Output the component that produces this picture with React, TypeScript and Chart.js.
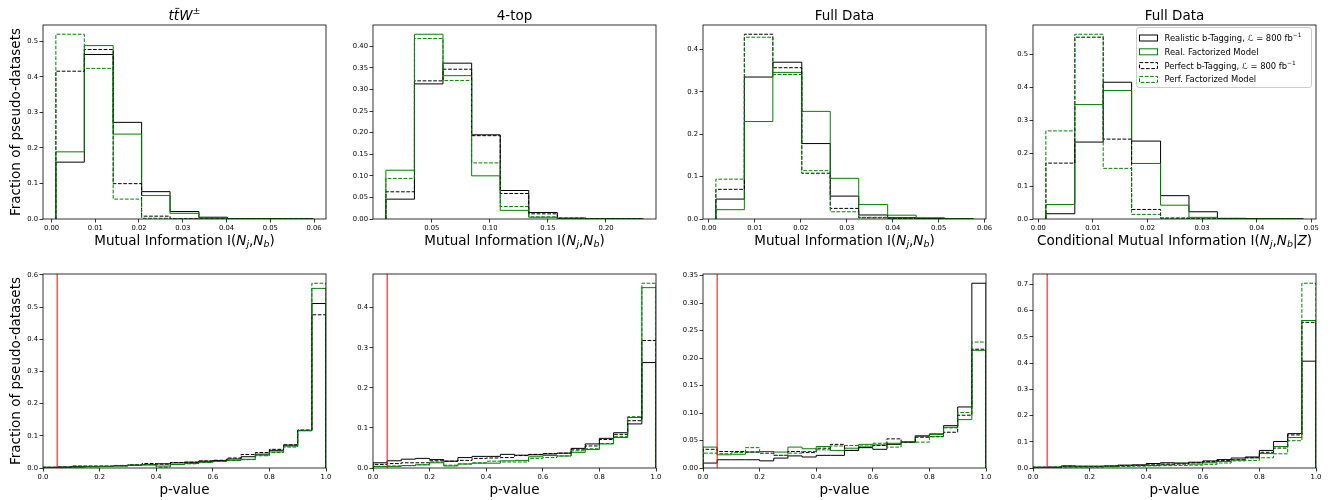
import React, { useEffect, useRef } from "react";
import { Chart, registerables } from "chart.js";
Chart.register(...registerables);

const FONT = "'DejaVu Sans', 'Liberation Sans', sans-serif";
const GREEN = "#008000";
const BLACK = "#000000";

// ---------- Series labels ----------
const seriesNames = [
  "Realistic b-Tagging, L = 800 fb-1",
  "Real. Factorized Model",
  "Perfect b-Tagging, L = 800 fb-1",
  "Perf. Factorized Model",
];

// ---------- Top row: mutual information histograms (9 bins) ----------
const ttwMiEdges = [0.001, 0.0075, 0.0141, 0.0206, 0.0271, 0.0337, 0.0402, 0.0467, 0.0533, 0.0598];
const ttwMiRealistic = [0.16, 0.463, 0.272, 0.077, 0.021, 0.005, 0.001, 0.0005, 0.0003];
const ttwMiRealFact = [0.189, 0.488, 0.239, 0.066, 0.016, 0.003, 0.001, 0.0005, 0.0002];
const ttwMiPerfect = [0.416, 0.477, 0.0995, 0.008, 0.001, 0.0003, 0.0002, 0.0001, 0.0001];
const ttwMiPerfFact = [0.52, 0.424, 0.056, 0.002, 0.0005, 0.0002, 0.0001, 0.0001, 0.0001];

const topMiEdges = [0.0104, 0.035, 0.0596, 0.0843, 0.1089, 0.1335, 0.1581, 0.1827, 0.2074, 0.232];
const topMiRealistic = [0.046, 0.313, 0.361, 0.195, 0.066, 0.015, 0.002, 0.0005, 0.0003];
const topMiRealFact = [0.113, 0.428, 0.332, 0.1, 0.02, 0.004, 0.001, 0.0005, 0.0002];
const topMiPerfect = [0.063, 0.32, 0.347, 0.193, 0.059, 0.012, 0.002, 0.0005, 0.0002];
const topMiPerfFact = [0.094, 0.418, 0.321, 0.13, 0.029, 0.005, 0.001, 0.0003, 0.0001];

const fullMiEdges = [0.0015, 0.0077, 0.0139, 0.0202, 0.0264, 0.0326, 0.0389, 0.0451, 0.0513, 0.0575];
const fullMiRealistic = [0.047, 0.335, 0.37, 0.178, 0.054, 0.0095, 0.003, 0.001, 0.0005];
const fullMiRealFact = [0.022, 0.23, 0.346, 0.254, 0.096, 0.034, 0.009, 0.003, 0.001];
const fullMiPerfect = [0.07, 0.436, 0.357, 0.108, 0.025, 0.003, 0.001, 0.0003, 0.0001];
const fullMiPerfFact = [0.094, 0.429, 0.341, 0.114, 0.017, 0.004, 0.001, 0.0003, 0.0001];

const cmiEdges = [0.0014, 0.0067, 0.0119, 0.0171, 0.0224, 0.0276, 0.0328, 0.0381, 0.0433, 0.0485];
const cmiRealistic = [0.016, 0.234, 0.416, 0.237, 0.071, 0.022, 0.002, 0.001, 0.0005];
const cmiRealFact = [0.044, 0.348, 0.391, 0.169, 0.042, 0.005, 0.001, 0.0005, 0.0002];
const cmiPerfect = [0.17, 0.553, 0.243, 0.029, 0.003, 0.0005, 0.0002, 0.0001, 0.0001];
const cmiPerfFact = [0.268, 0.562, 0.154, 0.014, 0.002, 0.0003, 0.0001, 0.0001, 0.0001];

// ---------- Bottom row: p-value histograms (20 bins) ----------
const pEdges = [0, 0.05, 0.1, 0.15, 0.2, 0.25, 0.3, 0.35, 0.4, 0.45, 0.5, 0.55, 0.6, 0.65, 0.7, 0.75, 0.8, 0.85, 0.9, 0.95, 1.0];

const pTtwRealistic = [0.002, 0.003, 0.005, 0.005, 0.005, 0.007, 0.009, 0.011, 0.013, 0.016, 0.018, 0.021, 0.023, 0.028, 0.035, 0.043, 0.055, 0.071, 0.116, 0.511];
const pTtwRealFact = [0.002, 0.002, 0.003, 0.004, 0.005, 0.006, 0.008, 0.009, 0.006, 0.011, 0.014, 0.018, 0.021, 0.024, 0.027, 0.04, 0.05, 0.068, 0.117, 0.558];
const pTtwPerfect = [0.002, 0.003, 0.006, 0.006, 0.006, 0.008, 0.01, 0.014, 0.012, 0.017, 0.018, 0.022, 0.024, 0.031, 0.042, 0.048, 0.058, 0.072, 0.118, 0.476];
const pTtwPerfFact = [0.002, 0.002, 0.003, 0.004, 0.005, 0.007, 0.01, 0.011, 0.003, 0.011, 0.013, 0.017, 0.02, 0.023, 0.026, 0.038, 0.048, 0.065, 0.116, 0.574];

const pTopRealistic = [0.013, 0.018, 0.022, 0.024, 0.021, 0.017, 0.026, 0.029, 0.029, 0.034, 0.032, 0.033, 0.035, 0.037, 0.049, 0.06, 0.074, 0.088, 0.11, 0.263];
const pTopRealFact = [0.004, 0.004, 0.006, 0.008, 0.013, 0.005, 0.01, 0.012, 0.012, 0.018, 0.019, 0.028, 0.031, 0.03, 0.039, 0.046, 0.06, 0.076, 0.126, 0.45];
const pTopPerfect = [0.009, 0.011, 0.013, 0.013, 0.018, 0.017, 0.019, 0.024, 0.025, 0.026, 0.031, 0.034, 0.036, 0.037, 0.047, 0.055, 0.071, 0.084, 0.118, 0.318];
const pTopPerfFact = [0.004, 0.005, 0.006, 0.008, 0.015, 0.007, 0.01, 0.013, 0.017, 0.015, 0.015, 0.024, 0.026, 0.03, 0.043, 0.048, 0.061, 0.079, 0.128, 0.461];

const pFullRealistic = [0.009, 0.015, 0.015, 0.015, 0.013, 0.018, 0.022, 0.02, 0.023, 0.023, 0.032, 0.037, 0.034, 0.043, 0.047, 0.058, 0.062, 0.077, 0.111, 0.336];
const pFullRealFact = [0.038, 0.024, 0.025, 0.029, 0.03, 0.029, 0.038, 0.035, 0.039, 0.032, 0.036, 0.043, 0.042, 0.045, 0.047, 0.059, 0.061, 0.074, 0.088, 0.214];
const pFullPerfect = [0.034, 0.03, 0.03, 0.029, 0.027, 0.023, 0.03, 0.028, 0.036, 0.043, 0.032, 0.038, 0.041, 0.053, 0.047, 0.056, 0.057, 0.065, 0.096, 0.216];
const pFullPerfFact = [0.027, 0.026, 0.028, 0.037, 0.03, 0.023, 0.027, 0.03, 0.033, 0.04, 0.041, 0.04, 0.045, 0.038, 0.048, 0.047, 0.057, 0.073, 0.101, 0.229];

const pCmiRealistic = [0.003, 0.003, 0.008, 0.007, 0.007, 0.008, 0.011, 0.012, 0.017, 0.02, 0.019, 0.022, 0.027, 0.032, 0.038, 0.042, 0.067, 0.101, 0.131, 0.407];
const pCmiRealFact = [0.002, 0.003, 0.005, 0.005, 0.005, 0.006, 0.009, 0.01, 0.01, 0.012, 0.017, 0.015, 0.02, 0.025, 0.031, 0.039, 0.055, 0.082, 0.116, 0.562];
const pCmiPerfect = [0.003, 0.003, 0.007, 0.006, 0.006, 0.007, 0.009, 0.01, 0.012, 0.015, 0.015, 0.02, 0.024, 0.029, 0.031, 0.039, 0.06, 0.076, 0.126, 0.555];
const pCmiPerfFact = [0.002, 0.002, 0.004, 0.004, 0.004, 0.005, 0.006, 0.007, 0.008, 0.009, 0.01, 0.011, 0.014, 0.019, 0.027, 0.029, 0.039, 0.054, 0.104, 0.704];

// ---------- Tick labels ----------
const ticksMi6 = [0, 0.01, 0.02, 0.03, 0.04, 0.05, 0.06];
const ticksMiTop = [0.05, 0.1, 0.15, 0.2];
const ticksCmi = [0, 0.01, 0.02, 0.03, 0.04, 0.05];
const ticksP = [0, 0.2, 0.4, 0.6, 0.8, 1.0];

const yTicksTtw = [0, 0.1, 0.2, 0.3, 0.4, 0.5];
const yTicksTop = [0, 0.05, 0.1, 0.15, 0.2, 0.25, 0.3, 0.35, 0.4];
const yTicksFull = [0, 0.1, 0.2, 0.3, 0.4];
const yTicksCmi = [0, 0.1, 0.2, 0.3, 0.4, 0.5];
const yTicksPTtw = [0, 0.1, 0.2, 0.3, 0.4, 0.5, 0.6];
const yTicksPTop = [0, 0.1, 0.2, 0.3, 0.4];
const yTicksPFull = [0, 0.05, 0.1, 0.15, 0.2, 0.25, 0.3, 0.35];
const yTicksPCmi = [0, 0.1, 0.2, 0.3, 0.4, 0.5, 0.6, 0.7];

// ---------- Rich text ----------
type Seg = { t: string; i?: boolean; sub?: boolean; sup?: boolean; over?: boolean };

const segFont = (s: Seg, size: number) =>
  `${s.i ? "italic " : ""}${s.sub || s.sup ? size * 0.7 : size}px ${FONT}`;

function drawRich(ctx: CanvasRenderingContext2D, segs: Seg[], x: number, y: number, size: number, align: "center" | "left") {
  const widths = segs.map((s) => {
    ctx.font = segFont(s, size);
    return ctx.measureText(s.t).width;
  });
  const total = widths.reduce((a, b) => a + b, 0);
  let cx = align === "center" ? x - total / 2 : x;
  ctx.textAlign = "left";
  ctx.textBaseline = "alphabetic";
  segs.forEach((s, k) => {
    ctx.font = segFont(s, size);
    let dy = 0;
    if (s.sub) dy = size * 0.22;
    if (s.sup) dy = -size * 0.42;
    ctx.fillText(s.t, cx, y + dy);
    if (s.over) {
      ctx.save();
      ctx.lineWidth = size * 0.06;
      ctx.beginPath();
      ctx.moveTo(cx + widths[k] * 0.25, y - size * 0.86);
      ctx.lineTo(cx + widths[k] * 1.05, y - size * 0.86);
      ctx.stroke();
      ctx.restore();
    }
    cx += widths[k];
  });
}

const miLabel: Seg[] = [
  { t: "Mutual Information I(" },
  { t: "N", i: true },
  { t: "j", i: true, sub: true },
  { t: "," },
  { t: "N", i: true },
  { t: "b", i: true, sub: true },
  { t: ")" },
];
const cmiLabel: Seg[] = [
  { t: "Conditional Mutual Information I(" },
  { t: "N", i: true },
  { t: "j", i: true, sub: true },
  { t: "," },
  { t: "N", i: true },
  { t: "b", i: true, sub: true },
  { t: "|" },
  { t: "Z", i: true },
  { t: ")" },
];
const pLabel: Seg[] = [{ t: "p-value" }];
const ttwTitle: Seg[] = [
  { t: "t", i: true },
  { t: "t", i: true, over: true },
  { t: "W", i: true },
  { t: "±", sup: true },
];

const legendRows: Seg[][] = [
  [{ t: "Realistic b-Tagging, " }, { t: "ℒ", i: true }, { t: " = 800 fb" }, { t: "−1", sup: true }],
  [{ t: "Real. Factorized Model" }],
  [{ t: "Perfect b-Tagging, " }, { t: "ℒ", i: true }, { t: " = 800 fb" }, { t: "−1", sup: true }],
  [{ t: "Perf. Factorized Model" }],
];
const seriesColors = [BLACK, GREEN, BLACK, GREEN];
const seriesDashed = [false, false, true, true];

// ---------- Panels ----------
type PanelCfg = {
  row: number;
  col: number;
  edges: number[];
  series: number[][];
  xTicks: number[];
  yTicks: number[];
  xDec: number;
  yDec: number;
  title?: Seg[];
  xLabel: Seg[];
  pvalue: boolean;
  legend?: boolean;
};

const panels: PanelCfg[] = [
  { row: 0, col: 0, edges: ttwMiEdges, series: [ttwMiRealistic, ttwMiRealFact, ttwMiPerfect, ttwMiPerfFact], xTicks: ticksMi6, yTicks: yTicksTtw, xDec: 2, yDec: 1, title: ttwTitle, xLabel: miLabel, pvalue: false },
  { row: 0, col: 1, edges: topMiEdges, series: [topMiRealistic, topMiRealFact, topMiPerfect, topMiPerfFact], xTicks: ticksMiTop, yTicks: yTicksTop, xDec: 2, yDec: 2, title: [{ t: "4-top" }], xLabel: miLabel, pvalue: false },
  { row: 0, col: 2, edges: fullMiEdges, series: [fullMiRealistic, fullMiRealFact, fullMiPerfect, fullMiPerfFact], xTicks: ticksMi6, yTicks: yTicksFull, xDec: 2, yDec: 1, title: [{ t: "Full Data" }], xLabel: miLabel, pvalue: false },
  { row: 0, col: 3, edges: cmiEdges, series: [cmiRealistic, cmiRealFact, cmiPerfect, cmiPerfFact], xTicks: ticksCmi, yTicks: yTicksCmi, xDec: 2, yDec: 1, title: [{ t: "Full Data" }], xLabel: cmiLabel, pvalue: false, legend: true },
  { row: 1, col: 0, edges: pEdges, series: [pTtwRealistic, pTtwRealFact, pTtwPerfect, pTtwPerfFact], xTicks: ticksP, yTicks: yTicksPTtw, xDec: 1, yDec: 1, xLabel: pLabel, pvalue: true },
  { row: 1, col: 1, edges: pEdges, series: [pTopRealistic, pTopRealFact, pTopPerfect, pTopPerfFact], xTicks: ticksP, yTicks: yTicksPTop, xDec: 1, yDec: 1, xLabel: pLabel, pvalue: true },
  { row: 1, col: 2, edges: pEdges, series: [pFullRealistic, pFullRealFact, pFullPerfect, pFullPerfFact], xTicks: ticksP, yTicks: yTicksPFull, xDec: 1, yDec: 2, xLabel: pLabel, pvalue: true },
  { row: 1, col: 3, edges: pEdges, series: [pCmiRealistic, pCmiRealFact, pCmiPerfect, pCmiPerfFact], xTicks: ticksP, yTicks: yTicksPCmi, xDec: 1, yDec: 1, xLabel: pLabel, pvalue: true },
];

const Y_AXIS_W = 43;
const PLOT_W = 283;
const RIGHT_PAD = 10;
const CANVAS_W = Y_AXIS_W + PLOT_W + RIGHT_PAD;
const CANVAS_H = 250;
const COL_STEP = 330;
const ROW_PAD_TOP = [25, 24];
const ROW_AXIS_H = [31, 32];
const TICK_FONT = 6.8;
const LABEL_FONT = 13.5;
const LEGEND_FONT = 8.4;

function PanelChart({ cfg }: { cfg: PanelCfg }) {
  const ref = useRef<HTMLCanvasElement>(null);
  useEffect(() => {
    const canvas = ref.current;
    if (!canvas) return;
    const e = cfg.edges;
    const n = e.length - 1;
    const span = e[n] - e[0];
    const xMin = cfg.pvalue ? 0 : e[0] - 0.05 * span;
    const xMax = cfg.pvalue ? 1 : e[n] + 0.05 * span;
    const yMax = 1.05 * Math.max(...cfg.series.map((s) => Math.max(...s)));

    // Step outline: rise at the first edge, one level per bin, drop at the last edge.
    const datasets = cfg.series.map((vals, k) => ({
      label: seriesNames[k],
      data: [{ x: e[0], y: 0 }, ...vals.map((v, i) => ({ x: e[i + 1], y: v })), { x: e[n], y: 0 }],
      borderColor: seriesColors[k],
      borderWidth: 1,
      borderDash: seriesDashed[k] ? [3.7, 1.6] : [],
      stepped: "after" as const,
      pointRadius: 0,
      fill: false,
      order: 10 - k,
    }));

    const overlay = {
      id: "overlay" + cfg.row + cfg.col,
      afterDatasetsDraw(chart: any) {
        if (!cfg.pvalue) return;
        const ctx = chart.ctx as CanvasRenderingContext2D;
        const ca = chart.chartArea;
        const px = chart.scales.x.getPixelForValue(0.05);
        ctx.save();
        ctx.strokeStyle = "#ff0000";
        ctx.lineWidth = 1;
        ctx.beginPath();
        ctx.moveTo(px, ca.top);
        ctx.lineTo(px, ca.bottom);
        ctx.stroke();
        ctx.restore();
      },
      afterDraw(chart: any) {
        const ctx = chart.ctx as CanvasRenderingContext2D;
        const ca = chart.chartArea;
        ctx.save();
        ctx.strokeStyle = "#000";
        ctx.lineWidth = 0.8;
        ctx.strokeRect(ca.left, ca.top, ca.right - ca.left, ca.bottom - ca.top);
        ctx.fillStyle = "#000";
        const cx = (ca.left + ca.right) / 2;
        if (cfg.title) drawRich(ctx, cfg.title, cx, ca.top - 5, LABEL_FONT, "center");
        drawRich(ctx, cfg.xLabel, cx, ca.bottom + 25.5, LABEL_FONT, "center");
        if (cfg.col === 0) {
          ctx.save();
          ctx.translate(20, (ca.top + ca.bottom) / 2);
          ctx.rotate(-Math.PI / 2);
          drawRich(ctx, [{ t: "Fraction of pseudo-datasets" }], 0, 0, LABEL_FONT, "center");
          ctx.restore();
        }
        if (cfg.legend) {
          const right = ca.right - 4.5;
          const top = ca.top + 2.5;
          const w = 175;
          const h = 60;
          const left = right - w;
          ctx.save();
          ctx.fillStyle = "rgba(255,255,255,0.8)";
          ctx.strokeStyle = "#cccccc";
          ctx.lineWidth = 1;
          ctx.beginPath();
          (ctx as any).roundRect(left, top, w, h, 2.5);
          ctx.fill();
          ctx.stroke();
          ctx.restore();
          legendRows.forEach((segs, k) => {
            const yc = top + 10.5 + k * 13.8;
            ctx.save();
            ctx.strokeStyle = seriesColors[k];
            ctx.lineWidth = 1;
            ctx.setLineDash(seriesDashed[k] ? [3.7, 1.6] : []);
            ctx.strokeRect(left + 3, yc - 3, 18, 6);
            ctx.restore();
            ctx.fillStyle = "#000";
            drawRich(ctx, segs, left + 28, yc + 3, LEGEND_FONT, "left");
          });
        }
        ctx.restore();
      },
    };

    const axisCommon = {
      grid: { display: true, drawOnChartArea: false, drawTicks: true, tickLength: 3.5, color: "#000", lineWidth: 0.8 },
      border: { display: false },
    };

    const chart = new Chart(canvas, {
      type: "line",
      data: { datasets: datasets as any },
      options: {
        animation: false,
        responsive: false,
        events: [],
        layout: { padding: { top: ROW_PAD_TOP[cfg.row], right: RIGHT_PAD, left: 0, bottom: 0 } },
        plugins: { legend: { display: false }, tooltip: { enabled: false }, title: { display: false } },
        elements: { line: { tension: 0 }, point: { radius: 0 } },
        scales: {
          x: {
            type: "linear",
            min: xMin,
            max: xMax,
            ...axisCommon,
            afterBuildTicks: (s: any) => {
              s.ticks = cfg.xTicks.map((v) => ({ value: v }));
            },
            afterFit: (s: any) => {
              s.height = ROW_AXIS_H[cfg.row];
            },
            ticks: {
              callback: (v: any) => Number(v).toFixed(cfg.xDec),
              font: { size: TICK_FONT, family: FONT },
              color: "#000",
              padding: 2,
              autoSkip: false,
              maxRotation: 0,
              minRotation: 0,
            },
          },
          y: {
            type: "linear",
            min: 0,
            max: yMax,
            ...axisCommon,
            afterBuildTicks: (s: any) => {
              s.ticks = cfg.yTicks.map((v) => ({ value: v }));
            },
            afterFit: (s: any) => {
              s.width = Y_AXIS_W;
            },
            ticks: {
              callback: (v: any) => Number(v).toFixed(cfg.yDec),
              font: { size: TICK_FONT, family: FONT },
              color: "#000",
              padding: 1.5,
              autoSkip: false,
            },
          },
        },
      } as any,
      plugins: [overlay],
    });
    return () => chart.destroy();
  }, [cfg]);

  return (
    <canvas
      ref={ref}
      width={CANVAS_W}
      height={CANVAS_H}
      style={{ position: "absolute", left: cfg.col * COL_STEP, top: cfg.row * CANVAS_H, width: CANVAS_W, height: CANVAS_H }}
    />
  );
}

export default function App() {
  return (
    <div style={{ position: "absolute", left: 0, top: 0, width: 1336, height: 500, background: "#fff", overflow: "hidden" }}>
      {panels.map((p, i) => (
        <PanelChart key={i} cfg={p} />
      ))}
    </div>
  );
}
